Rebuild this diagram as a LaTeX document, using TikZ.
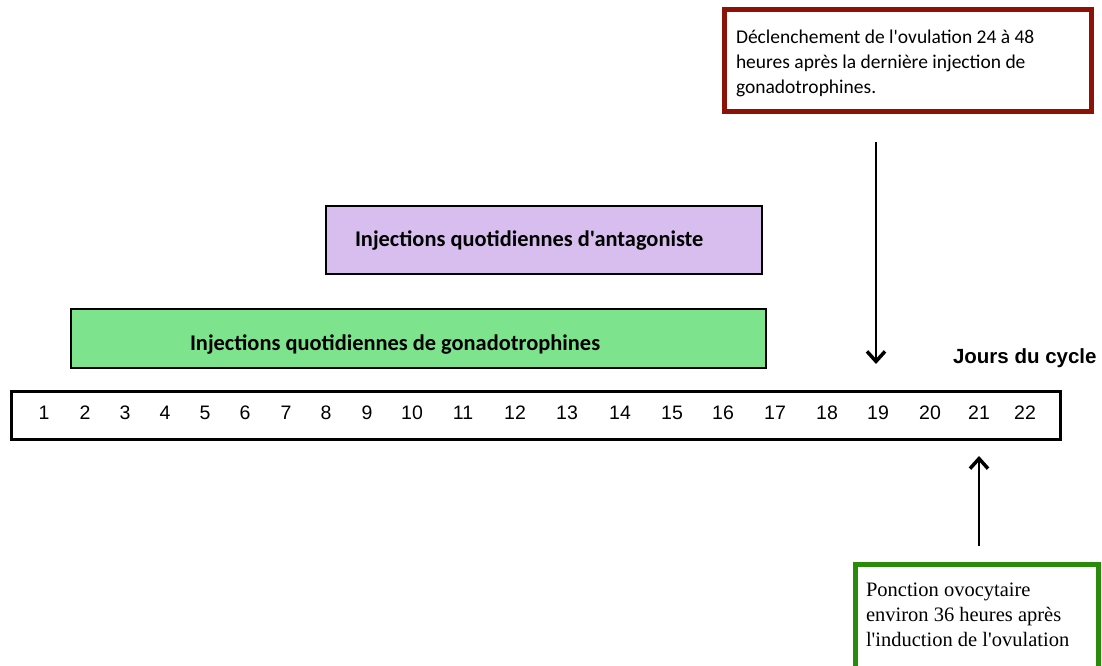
\documentclass[tikz,border=0pt]{standalone}
\usepackage{fontspec}
\setmainfont{Liberation Sans}
\newfontfamily\calib{Carlito}
\newfontfamily\timesf{Liberation Serif}
\usetikzlibrary{arrows.meta}
\definecolor{redborder}{RGB}{140,18,8}
\definecolor{greenborder}{RGB}{40,140,10}
\definecolor{lilac}{RGB}{215,190,238}
\definecolor{mint}{RGB}{125,227,140}
\begin{document}
\begin{tikzpicture}[x=1pt,y=-1pt,
  every node/.style={inner sep=0pt, outer sep=0pt},
  bar/.style={draw=black, line width=2.5pt, anchor=north west},
  daynum/.style={font=\fontsize{19.5}{22}\selectfont, anchor=center},
  note/.style={anchor=north west, align=left},
  bartext/.style={font=\calib\bfseries\fontsize{22.4}{24}\selectfont, anchor=west},
  arr/.style={line width=2.2pt, -{Straight Barb[length=10pt, width=18pt, line width=3.5pt]}}
]
\useasboundingbox (0,0) rectangle (1102,666);

% red note box
\node[draw=redborder, line width=5pt, minimum width=367pt, minimum height=102pt, anchor=north west] (trigbox) at (724,10) {};
\node[note, font=\calib\fontsize{19.5}{25}\selectfont] (trigtext) at (736,30)
  {Déclenchement de l'ovulation 24 à 48\\heures après la dernière injection de\\gonadotrophines.};

% antagonist bar
\node[bar, fill=lilac, minimum width=436pt, minimum height=68pt] (antag) at (326,206) {};
\node[bartext] (antagtext) at (355,241) {Injections quotidiennes d'antagoniste};

% gonadotrophin bar
\node[bar, fill=mint, minimum width=695pt, minimum height=59pt] (gona) at (71,309) {};
\node[bartext] (gonatext) at (190,345) {Injections quotidiennes de gonadotrophines};

% day bar
\node[draw=black, line width=3pt, minimum width=1049pt, minimum height=48pt, anchor=north west] (days) at (11,391) {};
\node[font=\bfseries\fontsize{20.5}{23}\selectfont, anchor=west] (jours) at (953,358) {Jours du cycle};

\foreach \n/\x in {1/44,2/85,3/125,4/165,5/205,6/245,7/286,8/326,9/367,10/412,11/463,12/515,13/567,14/620,15/672,16/723,17/775,18/827,19/878,20/930,21/979,22/1025}
  \node[daynum] (d\n) at (\x,413) {\n};

% arrows
\coordinate (downstart) at (876,142);
\coordinate (downend) at (876,364);
\draw[arr] (downstart) -- (downend);

% retrieval note
\node[draw=greenborder, line width=5pt, minimum width=243pt, minimum height=115pt, anchor=north west] (punctbox) at (855,564) {};
\node[note, font=\timesf\fontsize{20.5}{25}\selectfont] (puncttext) at (866,583)
  {Ponction ovocytaire\\environ 36 heures après\\l'induction de l'ovulation};

\coordinate (upstart) at (979,546);
\coordinate (upend) at (979,456);
\draw[arr] (upstart) -- (upend);
\end{tikzpicture}
\end{document}
